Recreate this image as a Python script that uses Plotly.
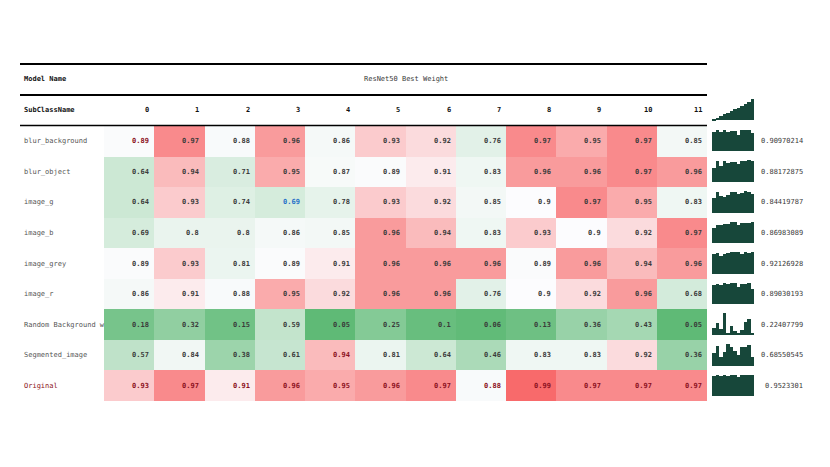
import plotly.graph_objects as go

W, H = 830, 467
OFF = 8  # page body margin

model_name = "ResNet50 Best Weight"
columns = [str(c) for c in range(12)]
rows = ["blur_background", "blur_object", "image_g", "image_b", "image_grey",
        "image_r", "Random Background w", "Segmented_image", "Original"]

values = [
    [0.89, 0.97, 0.88, 0.96, 0.86, 0.93, 0.92, 0.76, 0.97, 0.95, 0.97, 0.85],
    [0.64, 0.94, 0.71, 0.95, 0.87, 0.89, 0.91, 0.83, 0.96, 0.96, 0.97, 0.96],
    [0.64, 0.93, 0.74, 0.69, 0.78, 0.93, 0.92, 0.85, 0.90, 0.97, 0.95, 0.83],
    [0.69, 0.80, 0.80, 0.86, 0.85, 0.96, 0.94, 0.83, 0.93, 0.90, 0.92, 0.97],
    [0.89, 0.93, 0.81, 0.89, 0.91, 0.96, 0.96, 0.96, 0.89, 0.96, 0.94, 0.96],
    [0.86, 0.91, 0.88, 0.95, 0.92, 0.96, 0.96, 0.76, 0.90, 0.92, 0.96, 0.68],
    [0.18, 0.32, 0.15, 0.59, 0.05, 0.25, 0.10, 0.06, 0.13, 0.36, 0.43, 0.05],
    [0.57, 0.84, 0.38, 0.61, 0.94, 0.81, 0.64, 0.46, 0.83, 0.83, 0.92, 0.36],
    [0.93, 0.97, 0.91, 0.96, 0.95, 0.96, 0.97, 0.88, 0.99, 0.97, 0.97, 0.97],
]

row_means = ["0.90970214", "0.88172875", "0.84419787", "0.86983089", "0.92126928",
             "0.89030193", "0.22407799", "0.68550545", "0.9523301"]

header_spark = [0.05, 0.12, 0.2, 0.28, 0.36, 0.44, 0.52, 0.6, 0.68, 0.76, 0.86, 1.0]

# (row, col) -> text colour for highlighted cells
highlight = {(0, 0): "#8b1020", (2, 3): "#1f6fc8", (7, 4): "#8b1020"}
for c in range(12):
    highlight[(8, c)] = "#8b1020"

FONT = "DejaVu Sans Mono"
TXT = "#3a3a3a"


def px(x):
    return (x - OFF) / W


def py(y):
    return 1 - (y - OFF) / H


fig = go.Figure()

# heatmap cells
fig.add_trace(go.Heatmap(
    z=values, x=columns, y=rows,
    colorscale=[[0, "#5fba76"], [0.904, "#fcfcfe"], [1, "#f86a6b"]],
    zmin=0.05, zmax=0.99, showscale=False, hoverinfo="skip",
    xgap=0, ygap=0,
))

# sparklines
spark_color = "#17473a"
fig.add_trace(go.Bar(
    x=list(range(12)), y=[v * 0.7 for v in header_spark], base=9 + 0.17,
    width=1, marker=dict(color=spark_color, line=dict(width=0)),
    xaxis="x2", yaxis="y2", showlegend=False, hoverinfo="skip",
))
for i, vals in enumerate(values):
    m = max(vals)
    fig.add_trace(go.Bar(
        x=list(range(12)), y=[v / m * 0.7 for v in vals], base=8 - i + 0.16,
        width=1, marker=dict(color=spark_color, line=dict(width=0)),
        xaxis="x2", yaxis="y2", showlegend=False, hoverinfo="skip",
    ))

ann = []
for i, r in enumerate(rows):
    lab_col = "#8b1020" if r == "Original" else "#555555"
    ann.append(dict(x=px(22), xref="paper", y=r, yref="y", text=r,
                    xanchor="left", yanchor="middle", showarrow=False,
                    font=dict(family=FONT, size=7, color=lab_col)))
    for j, v in enumerate(values[i]):
        ann.append(dict(x=j + 0.44, xref="x", y=r, yref="y", text=f"{v:g}",
                        xanchor="right", yanchor="middle", showarrow=False,
                        font=dict(family=FONT, size=7, weight="bold",
                                  color=highlight.get((i, j), TXT))))
    ann.append(dict(x=px(805), xref="paper", y=r, yref="y", text=row_means[i],
                    xanchor="right", yanchor="middle", showarrow=False,
                    font=dict(family=FONT, size=7, color=TXT)))

for j, c in enumerate(columns):
    ann.append(dict(x=j + 0.44, xref="x", y=py(110), yref="paper", text=c,
                    xanchor="right", yanchor="middle", showarrow=False,
                    font=dict(family=FONT, size=7, weight="bold", color="#111")))

ann.append(dict(x=px(22), xref="paper", y=py(79), yref="paper", text="Model Name",
                xanchor="left", yanchor="middle", showarrow=False,
                font=dict(family=FONT, size=7, weight="bold", color="#111")))
ann.append(dict(x=px(22), xref="paper", y=py(110), yref="paper", text="SubClassName",
                xanchor="left", yanchor="middle", showarrow=False,
                font=dict(family=FONT, size=7, weight="bold", color="#111")))
ann.append(dict(x=5.5, xref="x", y=py(79), yref="paper", text=model_name,
                xanchor="center", yanchor="middle", showarrow=False,
                font=dict(family=FONT, size=7, color=TXT)))

shapes = [
    dict(type="line", xref="paper", yref="paper", x0=px(20), x1=px(707),
         y0=py(64), y1=py(64), line=dict(color="black", width=2)),
    dict(type="line", xref="paper", yref="paper", x0=px(20), x1=px(707),
         y0=py(95), y1=py(95), line=dict(color="black", width=2)),
    dict(type="line", xref="paper", yref="paper", x0=px(20), x1=px(707),
         y0=py(125.5), y1=py(125.5), line=dict(color="black", width=1.5)),
]

fig.update_layout(
    width=W, height=H, autosize=False,
    margin=dict(l=0, r=0, t=0, b=0),
    paper_bgcolor="white", plot_bgcolor="rgba(0,0,0,0)",
    barmode="overlay", bargap=0,
    xaxis=dict(domain=[px(104), px(707)], visible=False, fixedrange=True),
    yaxis=dict(domain=[py(401), py(126)], autorange="reversed", visible=False,
               fixedrange=True),
    xaxis2=dict(domain=[px(712), px(754)], range=[-0.5, 11.5], visible=False,
                anchor="y2"),
    yaxis2=dict(domain=[py(401), py(95)], range=[0, 10], visible=False,
                anchor="x2"),
    annotations=ann, shapes=shapes,
)

fig.write_html("out.html")
